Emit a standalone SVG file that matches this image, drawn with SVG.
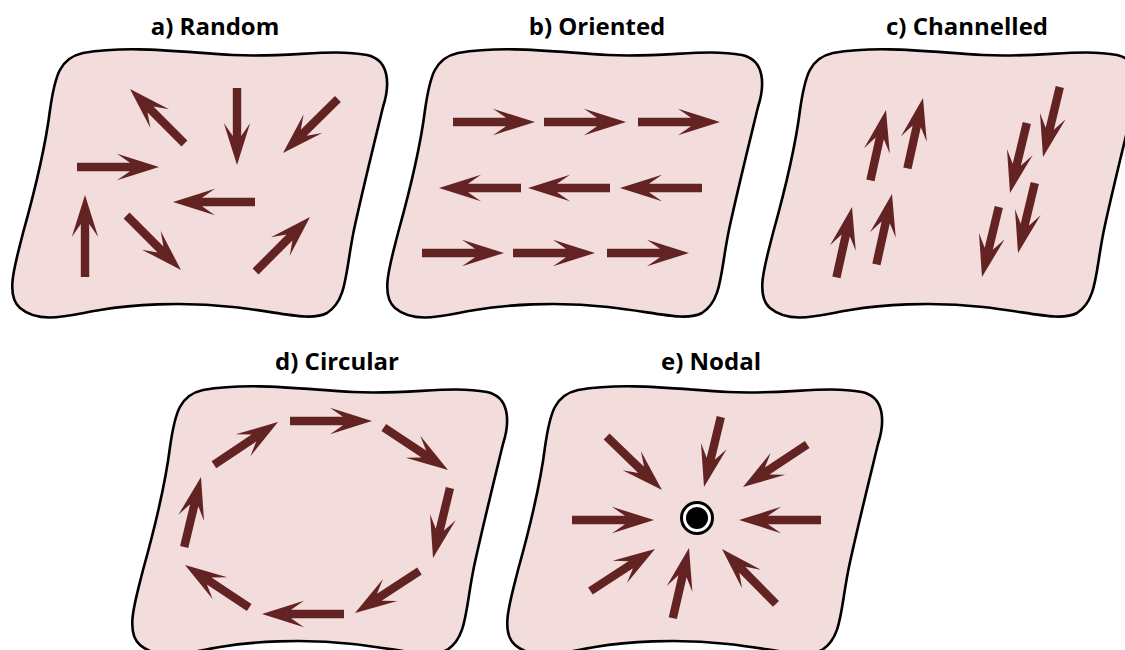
<svg xmlns="http://www.w3.org/2000/svg" xmlns:xlink="http://www.w3.org/1999/xlink" width="1125" height="650" viewBox="0 0 1125 650">
<style>
.blob{fill:#f2dcdc;stroke:#000;stroke-width:2.6}
.arr{fill:#632323}
.title{font-family:"Open Sans","Noto Sans",sans-serif;font-weight:bold;font-size:24px;fill:#000;text-anchor:middle}
</style>
<defs>
<path id="blob" d="M83,53 C130,45 180,52 233,55 C290,58 330,48 367,55 C390,60 390,85 383,107 C375,140 365,180 355,225 C345,270 348,300 327,313 C310,322 280,312 233,307 C180,301 130,305 100,310 C70,315 40,325 20,308 C5,295 15,265 23,233 C35,190 45,150 50,110 C55,75 60,58 83,53 Z"/>
<path id="A82" d="M-82,-4.2 H-29 L-42,-13.2 L0,0 L-42,13.2 L-29,4.2 H-82 Z"/>
<path id="A77" d="M-77,-4.2 H-29 L-42,-13.2 L0,0 L-42,13.2 L-29,4.2 H-77 Z"/>
<path id="A72" d="M-72,-4.2 H-29 L-42,-13.2 L0,0 L-42,13.2 L-29,4.2 H-72 Z"/>
</defs>
<rect width="1125" height="650" fill="#fff"/>

<g id="panel-a">
<use href="#blob" class="blob"/>
<text class="title" x="215" y="35">a) Random</text>
<g class="arr">
<use href="#A77" transform="translate(130,89) rotate(225)"/>
<use href="#A77" transform="translate(237,165) rotate(90)"/>
<use href="#A77" transform="translate(283,153) rotate(135.5)"/>
<use href="#A82" transform="translate(159,167) rotate(0)"/>
<use href="#A82" transform="translate(173,202) rotate(180)"/>
<use href="#A82" transform="translate(85,195) rotate(-90)"/>
<use href="#A77" transform="translate(181,270) rotate(45)"/>
<use href="#A77" transform="translate(310,217) rotate(-45)"/>
</g>
</g>

<g id="panel-b">
<use href="#blob" class="blob" transform="translate(375,0)"/>
<text class="title" x="597" y="35">b) Oriented</text>
<g class="arr">
<use href="#A82" transform="translate(535,122)"/>
<use href="#A82" transform="translate(626,122)"/>
<use href="#A82" transform="translate(720,122)"/>
<use href="#A82" transform="translate(439,188) rotate(180)"/>
<use href="#A82" transform="translate(528,188) rotate(180)"/>
<use href="#A82" transform="translate(620,188) rotate(180)"/>
<use href="#A82" transform="translate(504,253)"/>
<use href="#A82" transform="translate(595,253)"/>
<use href="#A82" transform="translate(689,253)"/>
</g>
</g>

<g id="panel-c">
<use href="#blob" class="blob" transform="translate(750,0)"/>
<text class="title" x="967" y="35">c) Channelled</text>
<g class="arr">
<use href="#A72" transform="translate(852,207) rotate(-77.5)"/>
<use href="#A72" transform="translate(892,194) rotate(-77.5)"/>
<use href="#A72" transform="translate(886,110) rotate(-77.5)"/>
<use href="#A72" transform="translate(923,98) rotate(-77.5)"/>
<use href="#A72" transform="translate(1043,157) rotate(103.5)"/>
<use href="#A72" transform="translate(1010,193) rotate(103.5)"/>
<use href="#A72" transform="translate(1018,253) rotate(103.5)"/>
<use href="#A72" transform="translate(982,277) rotate(103.5)"/>
</g>
</g>

<g id="panel-d">
<use href="#blob" class="blob" transform="translate(120,337)"/>
<text class="title" x="337" y="370">d) Circular</text>
<g class="arr">
<use href="#A82" transform="translate(372,421) rotate(0)"/>
<use href="#A77" transform="translate(448,470) rotate(33.5)"/>
<use href="#A72" transform="translate(433,558) rotate(103.6)"/>
<use href="#A77" transform="translate(355,613) rotate(146.9)"/>
<use href="#A82" transform="translate(262,614) rotate(180)"/>
<use href="#A77" transform="translate(185,565) rotate(213.5)"/>
<use href="#A72" transform="translate(201,477) rotate(-76.5)"/>
<use href="#A77" transform="translate(278,422) rotate(-33.7)"/>
</g>
</g>

<g id="panel-e">
<use href="#blob" class="blob" transform="translate(495,337)"/>
<text class="title" x="711" y="370">e) Nodal</text>
<g class="arr">
<use href="#A72" transform="translate(704,487) rotate(103.5)"/>
<use href="#A77" transform="translate(662,490) rotate(44)"/>
<use href="#A77" transform="translate(743,487) rotate(146.5)"/>
<use href="#A82" transform="translate(654,520) rotate(0)"/>
<use href="#A82" transform="translate(739,520) rotate(180)"/>
<use href="#A77" transform="translate(655,549) rotate(-33)"/>
<use href="#A72" transform="translate(689,548) rotate(-77)"/>
<use href="#A77" transform="translate(722,549) rotate(225.5)"/>
</g>
<g id="node-center">
<circle cx="697" cy="518" r="15.5" fill="#fff" stroke="#000" stroke-width="3"/>
<circle cx="697" cy="518" r="11" fill="#000"/>
</g>
</g>
</svg>
